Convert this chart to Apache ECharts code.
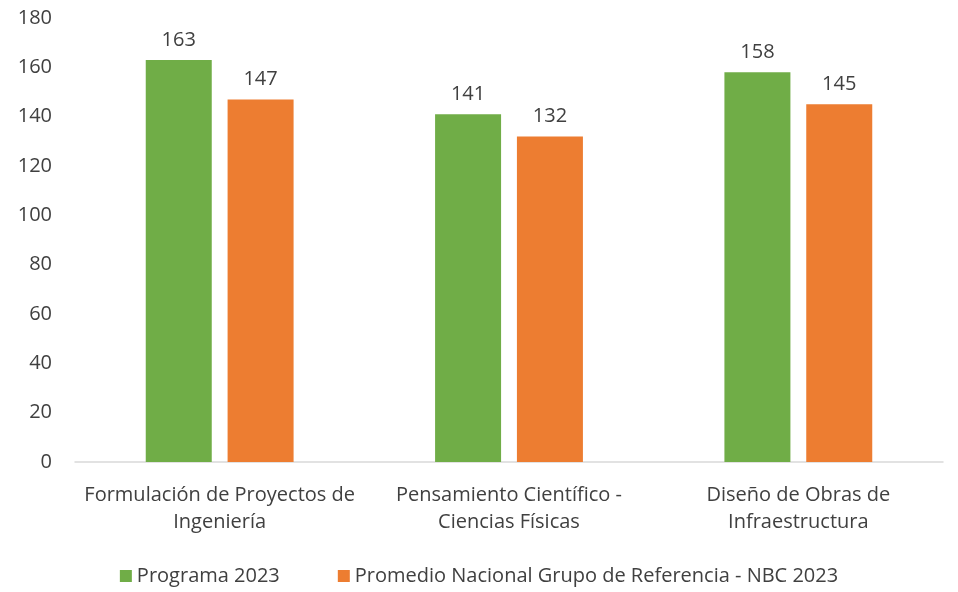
<!DOCTYPE html>
<html><head><meta charset="utf-8">
<script src="https://cdn.jsdelivr.net/npm/echarts@6/dist/echarts.min.js"></script>
<style>html,body{margin:0;padding:0;background:#fff}#c{width:958px;height:592px}</style>
</head><body><div id="c"></div>
<script>
const categories = ['Formulación de Proyectos de\nIngeniería', 'Pensamiento Científico -\nCiencias Físicas', 'Diseño de Obras de\nInfraestructura'];
const programa2023 = [163, 141, 158];
const promedioNacional = [147, 132, 145];
const seriesNames = ['Programa 2023', 'Promedio Nacional Grupo de Referencia - NBC 2023'];
const FONT = '"Open Sans", sans-serif';
const chart = echarts.init(document.getElementById('c'));
chart.setOption({
  backgroundColor: '#fff',
  animation: false,
  textStyle: { fontFamily: FONT },
  grid: { left: 75, right: 15, top: 18, bottom: 130 },
  legend: {
    bottom: 1, left: 'center', itemWidth: 12, itemHeight: 12, itemGap: 58, icon: 'rect',
    textStyle: { fontSize: 20, color: '#404040', fontFamily: FONT }
  },
  xAxis: {
    type: 'category', data: categories,
    axisLine: { lineStyle: { color: '#D9D9D9', width: 1.5 } },
    axisTick: { show: false },
    axisLabel: { fontSize: 20, color: '#404040', lineHeight: 27, margin: 20, fontFamily: FONT, interval: 0 }
  },
  yAxis: {
    type: 'value', min: 0, max: 180, interval: 20,
    splitLine: { show: false },
    axisLine: { show: false }, axisTick: { show: false },
    axisLabel: { fontSize: 20, color: '#404040', margin: 23, fontFamily: FONT }
  },
  series: [
    { name: seriesNames[0], type: 'bar', data: programa2023, barWidth: 66, barGap: '24%',
      itemStyle: { color: '#70AD47' },
      label: { show: true, position: 'top', fontSize: 20, color: '#404040', distance: 10, fontFamily: FONT } },
    { name: seriesNames[1], type: 'bar', data: promedioNacional, barWidth: 66,
      itemStyle: { color: '#ED7D31' },
      label: { show: true, position: 'top', fontSize: 20, color: '#404040', distance: 10, fontFamily: FONT } }
  ]
});
</script></body></html>
